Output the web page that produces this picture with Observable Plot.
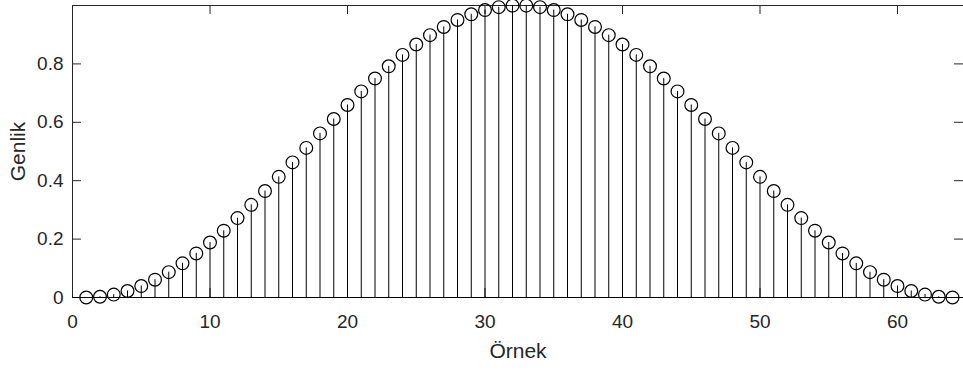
<!DOCTYPE html>
<html><head><meta charset="utf-8">
<script src="https://cdn.jsdelivr.net/npm/d3@7"></script>
<script src="https://cdn.jsdelivr.net/npm/@observablehq/plot@0.6"></script>
<style>body{margin:0;background:#fff;} svg{display:block;}</style>
</head><body><div id="chart"></div>
<script>
const samples = [1,2,3,4,5,6,7,8,9,10,11,12,13,14,15,16,17,18,19,20,21,22,23,24,25,26,27,28,29,30,31,32,
  33,34,35,36,37,38,39,40,41,42,43,44,45,46,47,48,49,50,51,52,53,54,55,56,57,58,59,60,61,62,63,64];
const amplitudes = [0, 0.0025, 0.0099, 0.0222, 0.0393, 0.0609, 0.0869, 0.1170, 0.1509, 0.1883, 0.2287, 0.2719,
  0.3173, 0.3646, 0.4132, 0.4626, 0.5124, 0.5620, 0.6113, 0.6593, 0.7059, 0.7500, 0.7918, 0.8308, 0.8665, 0.8985,
  0.9266, 0.9505, 0.9698, 0.9845, 0.9944, 0.9994, 0.9994, 0.9944, 0.9845, 0.9698, 0.9505, 0.9266, 0.8985, 0.8665,
  0.8308, 0.7918, 0.7500, 0.7059, 0.6593, 0.6113, 0.5620, 0.5124, 0.4626, 0.4132, 0.3646, 0.3173, 0.2719, 0.2287,
  0.1883, 0.1509, 0.1170, 0.0869, 0.0609, 0.0393, 0.0222, 0.0099, 0.0025, 0];
const xTicks = [0, 10, 20, 30, 40, 50, 60];
const yTicks = [0, 0.2, 0.4, 0.6, 0.8];
const yTickLabels = ["0", "0.2", "0.4", "0.6", "0.8"];
const xLabel = "Örnek";
const yLabel = "Genlik";

const data = samples.map((s, i) => ({sample: s, amp: amplitudes[i]}));
const yTickData = yTicks.map((v, i) => ({v, label: yTickLabels[i]}));

const W = 963, H = 370, mL = 72, mR = 0, mT = 5, mB = 73;
const innerW = W - mL - mR, innerH = H - mT - mB, tk = 9;
const ink = "#262626";
const tickFont = 19, labelFont = 21;

const chart = Plot.plot({
  width: W, height: H,
  marginLeft: mL, marginRight: mR, marginTop: mT, marginBottom: mB,
  style: {fontFamily: "'Liberation Sans', Arial, sans-serif", color: ink, background: "#fff"},
  x: {domain: [0, 64.8], axis: null},
  y: {domain: [0, 1], axis: null},
  marks: [
    Plot.frame({stroke: ink, strokeWidth: 1}),
    Plot.tickX(xTicks, {x: d => d, insetTop: innerH - tk, stroke: ink}),
    Plot.tickX(xTicks, {x: d => d, insetBottom: innerH - tk, stroke: ink}),
    Plot.tickY(yTicks, {y: d => d, insetRight: innerW - tk, stroke: ink}),
    Plot.tickY(yTicks, {y: d => d, insetLeft: innerW - tk, stroke: ink}),
    Plot.text(xTicks, {x: d => d, text: d => String(d), frameAnchor: "bottom", textAnchor: "middle", lineAnchor: "middle", dy: 24, fontSize: tickFont, fill: ink}),
    Plot.text(yTickData, {y: "v", text: "label", frameAnchor: "left", textAnchor: "end", lineAnchor: "middle", dx: -9, fontSize: tickFont, fill: ink}),
    Plot.text([xLabel], {frameAnchor: "bottom", text: d => d, textAnchor: "middle", lineAnchor: "middle", dy: 54, fontSize: labelFont, fill: ink}),
    Plot.text([yLabel], {frameAnchor: "left", text: d => d, textAnchor: "middle", lineAnchor: "middle", dx: -54, rotate: -90, fontSize: labelFont, fill: ink}),
    Plot.ruleY([0], {stroke: "#000", strokeWidth: 1}),
    Plot.ruleX(data, {x: "sample", y1: 0, y2: "amp", stroke: "#000", strokeWidth: 1}),
    Plot.dot(data, {x: "sample", y: "amp", r: 6.4, stroke: "#000", fill: "none", strokeWidth: 1.2})
  ]
});
document.getElementById("chart").appendChild(chart);
</script>
</body></html>
